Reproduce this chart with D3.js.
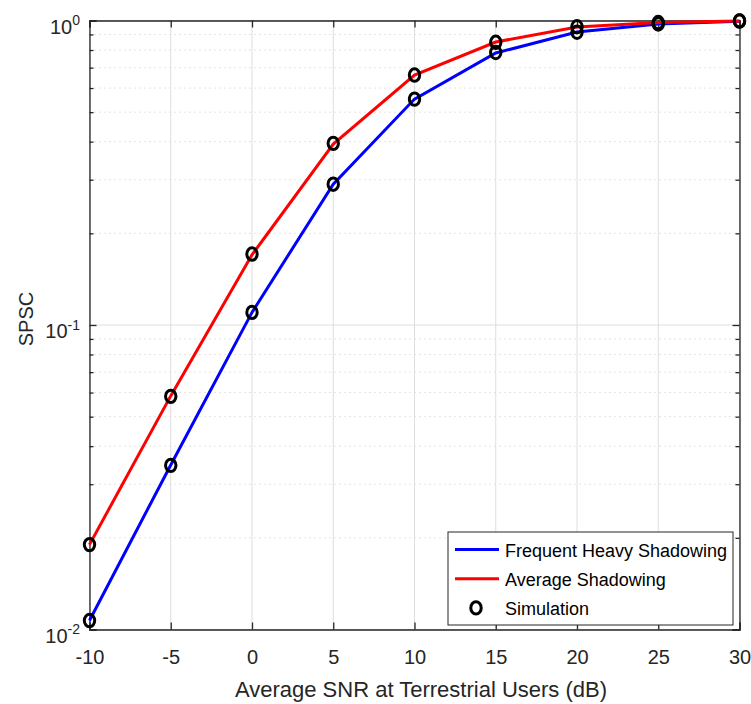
<!DOCTYPE html>
<html>
<head>
<meta charset="utf-8">
<script src="https://cdn.jsdelivr.net/npm/d3@7"></script>
<style>
  html, body { margin: 0; padding: 0; background: #fff; }
  svg { display: block; font-family: "Liberation Sans", Arial, sans-serif; }
</style>
</head>
<body>
<div id="chart"></div>
<script>
// SNR points (dB)
const snr = [-10, -5, 0, 5, 10, 15, 20, 25, 30]
// analytical curves
const heavy = [0.0107, 0.0347, 0.110, 0.290, 0.552, 0.782, 0.917, 0.974, 0.995]
const average = [0.0190, 0.0585, 0.170, 0.393, 0.662, 0.850, 0.952, 0.985, 0.997]
// simulation markers
const simHeavy = [0.0107, 0.0346, 0.110, 0.290, 0.552, 0.785, 0.915, 0.974, 0.996]
const simAverage = [0.0190, 0.0583, 0.171, 0.395, 0.662, 0.848, 0.954, 0.985, 0.997]

const xTicks = [-10, -5, 0, 5, 10, 15, 20, 25, 30]
const yDecades = [0.01, 0.1, 1]
const yExponents = [-2, -1, 0]

const width = 751, height = 704
const margin = { top: 20.5, right: 11.5, bottom: 74.5, left: 89.5 }
const innerW = width - margin.left - margin.right
const innerH = height - margin.top - margin.bottom

const svg = d3.select("#chart").append("svg")
  .attr("width", width)
  .attr("height", height)

const g = svg.append("g")
  .attr("transform", `translate(${margin.left},${margin.top})`)

const x = d3.scaleLinear().domain([-10, 30]).range([0, innerW])
const y = d3.scaleLog().domain([0.01, 1]).range([innerH, 0])

// minor values 2..9 in each decade
const minor = []
for (let d = 0; d < 2; d++) {
  for (let k = 2; k <= 9; k++) minor.push(yDecades[d] * k)
}

// --- grid ---
g.append("g").selectAll("line").data(minor).join("line")
  .attr("x1", 0).attr("x2", innerW)
  .attr("y1", d => y(d)).attr("y2", d => y(d))
  .attr("stroke", "#c8c8c8")
  .attr("stroke-width", 1)
  .attr("stroke-dasharray", "1,4")

g.append("g").selectAll("line").data(yDecades).join("line")
  .attr("x1", 0).attr("x2", innerW)
  .attr("y1", d => y(d)).attr("y2", d => y(d))
  .attr("stroke", "#dedede")
  .attr("stroke-width", 1)

g.append("g").selectAll("line").data(xTicks).join("line")
  .attr("x1", d => x(d)).attr("x2", d => x(d))
  .attr("y1", 0).attr("y2", innerH)
  .attr("stroke", "#dedede")
  .attr("stroke-width", 1)

// --- axes (ticks inward on all four sides) ---
const tickLen = 7, minorLen = 4
const axisColor = "#262626"

const xBottom = d3.axisBottom(x).tickValues(xTicks).tickSize(-tickLen).tickPadding(20)
  .tickFormat(d => String(d))
g.append("g").attr("transform", `translate(0,${innerH})`).call(xBottom)
  .call(a => a.selectAll("text").attr("font-size", "20px").attr("fill", axisColor))

const xTop = d3.axisTop(x).tickValues(xTicks).tickSize(-tickLen).tickFormat("")
g.append("g").call(xTop)

const yLeft = d3.axisLeft(y).tickValues(yDecades).tickSize(-tickLen).tickFormat("")
g.append("g").call(yLeft)
const yLeftMinor = d3.axisLeft(y).tickValues(minor).tickSize(-minorLen).tickFormat("")
g.append("g").call(yLeftMinor).call(a => a.select(".domain").remove())

const yRight = d3.axisRight(y).tickValues(yDecades).tickSize(-tickLen).tickFormat("")
g.append("g").attr("transform", `translate(${innerW},0)`).call(yRight)
const yRightMinor = d3.axisRight(y).tickValues(minor).tickSize(-minorLen).tickFormat("")
g.append("g").attr("transform", `translate(${innerW},0)`).call(yRightMinor)
  .call(a => a.select(".domain").remove())

g.selectAll(".domain").attr("stroke", axisColor).attr("stroke-width", 1.3)
g.selectAll(".tick line").attr("stroke", axisColor).attr("stroke-width", 1.3)

// y tick labels as 10^n
yDecades.forEach((d, i) => {
  const t = g.append("text")
    .attr("x", -9.5)
    .attr("y", y(d) + 13)
    .attr("text-anchor", "end")
    .attr("fill", axisColor)
    .attr("font-size", "20px")
  t.append("tspan").text("10")
  t.append("tspan").attr("dy", -8.5).attr("font-size", "14px").text(yExponents[i])
})

// --- curves ---
const line = d3.line().x(d => x(d[0])).y(d => y(d[1]))

g.append("path")
  .datum(d3.zip(snr, heavy))
  .attr("fill", "none")
  .attr("stroke", "#0000ff")
  .attr("stroke-width", 3)
  .attr("d", line)

g.append("path")
  .datum(d3.zip(snr, average))
  .attr("fill", "none")
  .attr("stroke", "#ff0000")
  .attr("stroke-width", 3)
  .attr("d", line)

// simulation markers
const sims = d3.zip(snr, simHeavy).concat(d3.zip(snr, simAverage))
g.append("g").selectAll("ellipse").data(sims).join("ellipse")
  .attr("cx", d => x(d[0]))
  .attr("cy", d => y(d[1]))
  .attr("rx", 5.2)
  .attr("ry", 6.2)
  .attr("fill", "none")
  .attr("stroke", "#000")
  .attr("stroke-width", 3)

// --- axis labels ---
svg.append("text")
  .attr("x", 421)
  .attr("y", 697)
  .attr("text-anchor", "middle")
  .attr("fill", axisColor)
  .attr("font-size", "22px")
  .text("Average SNR at Terrestrial Users (dB)")

svg.append("text")
  .attr("transform", "translate(33,319) rotate(-90)")
  .attr("text-anchor", "middle")
  .attr("fill", axisColor)
  .attr("font-size", "20px")
  .text("SPSC")

// --- legend ---
const lg = svg.append("g").attr("transform", "translate(448,532)")
lg.append("rect")
  .attr("width", 285).attr("height", 93)
  .attr("fill", "#fff")
  .attr("stroke", "#262626")
  .attr("stroke-width", 1)

const legendItems = [
  { label: "Frequent Heavy Shadowing", color: "#0000ff", type: "line" },
  { label: "Average Shadowing", color: "#ff0000", type: "line" },
  { label: "Simulation", color: "#000", type: "marker" }
]
legendItems.forEach((item, i) => {
  const cy = 17.5 + i * 29.2
  if (item.type === "line") {
    lg.append("line")
      .attr("x1", 7).attr("x2", 51)
      .attr("y1", cy).attr("y2", cy)
      .attr("stroke", item.color)
      .attr("stroke-width", 3)
  } else {
    lg.append("ellipse")
      .attr("cx", 28).attr("cy", cy)
      .attr("rx", 5.2).attr("ry", 6.2)
      .attr("fill", "none")
      .attr("stroke", "#000")
      .attr("stroke-width", 3)
  }
  lg.append("text")
    .attr("x", 57)
    .attr("y", cy + 7.5)
    .attr("fill", "#000")
    .attr("font-size", "18px")
    .text(item.label)
})
</script>
</body>
</html>
